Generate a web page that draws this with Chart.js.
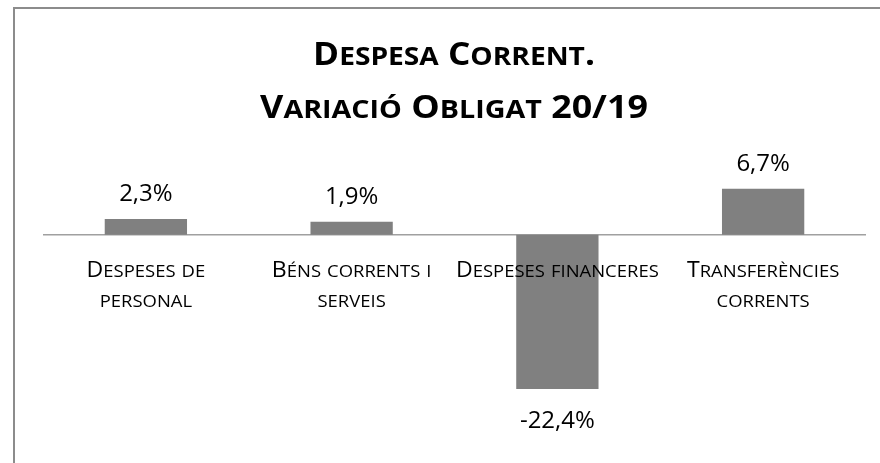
<!doctype html>
<html lang="ca">
  <head>
    <meta charset="utf-8">
    <title>Despesa corrent. Variació obligat 20/19</title>
    <script src="https://cdn.jsdelivr.net/npm/chart.js"></script>
    <style>
      html, body {
        margin: 0;
        padding: 0;
        background: #fff;
        overflow: hidden;
      }
      #chart {
        display: block;
      }
    </style>
  </head>
  <body>
    <canvas id="chart" width="880" height="463"></canvas>

    <script>
      // Chart data
      const categories = [
        ['Despeses de', 'personal'],
        ['Béns corrents i', 'serveis'],
        ['Despeses financeres'],
        ['Transferències', 'corrents']
      ];
      const variation = [2.3, 1.9, -22.4, 6.7];
      const titleLines = ['Despesa Corrent.', 'Variació Obligat 20/19'];

      const FONT = '"Open Sans", Lato, sans-serif';

      // draw text in small caps: lowercase letters become smaller capitals
      function smallCapsRuns(text) {
        const runs = [];
        for (const ch of text) {
          const small = ch !== ch.toUpperCase();
          const last = runs[runs.length - 1];
          if (last && last.small === small) last.text += ch.toUpperCase();
          else runs.push({ text: ch.toUpperCase(), small });
        }
        return runs;
      }

      function drawSmallCaps(ctx, text, cx, y, size, weight, stretch) {
        const runs = smallCapsRuns(text);
        let total = 0;
        runs.forEach(r => {
          ctx.font = weight + ' ' + (r.small ? size * 0.8 : size) + 'px ' + FONT;
          r.w = ctx.measureText(r.text).width;
          total += r.w;
        });
        ctx.save();
        ctx.translate(cx, y);
        ctx.scale(stretch, 1);
        let x = -total / 2;
        ctx.textAlign = 'left';
        ctx.textBaseline = 'alphabetic';
        runs.forEach(r => {
          ctx.font = weight + ' ' + (r.small ? size * 0.8 : size) + 'px ' + FONT;
          ctx.fillText(r.text, x, 0);
          x += r.w;
        });
        ctx.restore();
      }

      const decorPlugin = {
        id: 'decor',
        beforeDraw(chart) {
          const ctx = chart.ctx;
          ctx.save();
          // frame of the chart object
          ctx.strokeStyle = '#8c8c8c';
          ctx.lineWidth = 2;
          ctx.beginPath();
          ctx.moveTo(14, 463);
          ctx.lineTo(14, 8);
          ctx.lineTo(880, 8);
          ctx.stroke();

          // title
          ctx.fillStyle = '#000';
          const cx = 454;
          drawSmallCaps(ctx, titleLines[0], cx, 65, 32, 'bold', 1.1);
          drawSmallCaps(ctx, titleLines[1], cx, 118, 32, 'bold', 1.12);
          ctx.restore();
        },
        beforeDatasetsDraw(chart) {
          const ctx = chart.ctx;
          const y0 = chart.scales.y.getPixelForValue(0);
          ctx.save();
          ctx.strokeStyle = '#a0a0a0';
          ctx.lineWidth = 1.5;
          ctx.beginPath();
          ctx.moveTo(chart.chartArea.left, y0);
          ctx.lineTo(chart.chartArea.right, y0);
          ctx.stroke();
          ctx.restore();
        },
        afterDatasetsDraw(chart) {
          const ctx = chart.ctx;
          const xs = chart.scales.x;
          const y0 = chart.scales.y.getPixelForValue(0);
          ctx.save();
          ctx.fillStyle = '#000';

          // category labels just under the zero line
          categories.forEach((lines, i) => {
            const x = xs.getPixelForValue(i);
            lines.forEach((line, j) => {
              drawSmallCaps(ctx, line, x, y0 + 42 + j * 30, 21, 'normal', 1.1);
            });
          });

          // value labels
          const meta = chart.getDatasetMeta(0);
          ctx.font = '24px ' + FONT;
          ctx.textAlign = 'center';
          ctx.textBaseline = 'alphabetic';
          meta.data.forEach((bar, i) => {
            const v = variation[i];
            const txt = v.toFixed(1).replace('.', ',') + '%';
            const y = v >= 0 ? bar.y - 18 : bar.y + 39;
            ctx.fillText(txt, bar.x, y);
          });
          ctx.restore();
        }
      };

      new Chart(document.getElementById('chart'), {
        type: 'bar',
        data: {
          labels: categories.map(c => c.join(' ')),
          datasets: [{
            data: variation,
            backgroundColor: '#808080',
            borderWidth: 0,
            barPercentage: 0.4,
            categoryPercentage: 1
          }]
        },
        options: {
          responsive: false,
          animation: false,
          devicePixelRatio: 1,
          layout: {
            padding: { left: 43, right: 14, top: 166, bottom: 56 }
          },
          scales: {
            x: { display: false },
            y: { display: false, min: -25, max: 10 }
          },
          plugins: {
            legend: { display: false },
            title: { display: false },
            tooltip: { enabled: false }
          }
        },
        plugins: [decorPlugin]
      });
    </script>
  </body>
</html>
